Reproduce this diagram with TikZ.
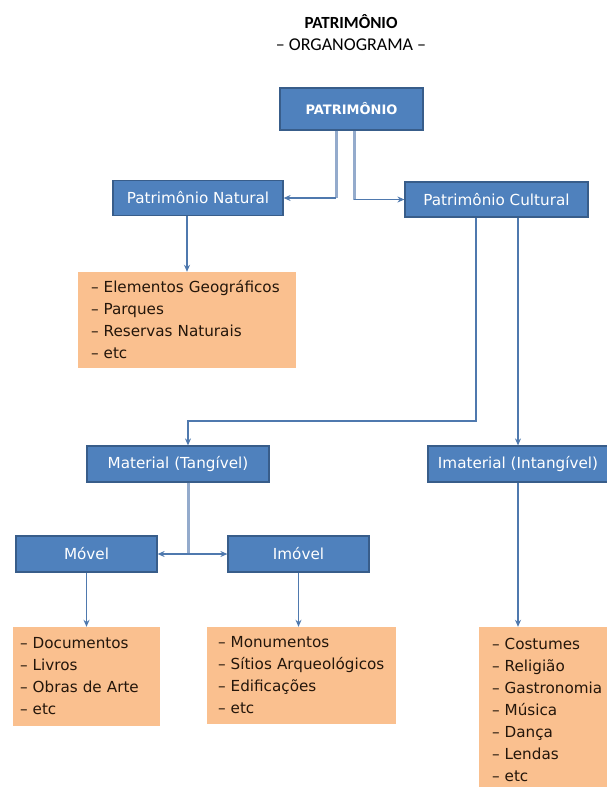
\documentclass[tikz,border=0pt]{standalone}
\usepackage{fontspec}
\setmainfont{DejaVu Sans}
\newfontfamily\titlefont{Carlito}
\usetikzlibrary{arrows.meta}
\definecolor{boxblue}{HTML}{4F81BD}
\definecolor{boxline}{HTML}{385D8A}
\definecolor{listfill}{HTML}{FAC08F}
\definecolor{listtext}{HTML}{24160B}
\definecolor{linkblue}{HTML}{4F79AE}
\definecolor{trunkblue}{HTML}{94ABCC}
\begin{document}
\begin{tikzpicture}[x=1pt,y=-1pt,
		catbox/.style={draw=boxline,fill=boxblue,text=white,line width=1.2pt,inner sep=0pt,font=\fontsize{15.2}{17}\selectfont},
		listbox/.style={fill=listfill,text=listtext,align=left,inner ysep=0pt,font=\fontsize{15.2}{22}\selectfont},
		link/.style={draw=linkblue,line width=1.1pt,-{Stealth[length=7pt,width=6pt]}},
		trunk/.style={draw=trunkblue,line width=3pt}]
			\useasboundingbox (0,0) rectangle (606,787);
			\draw
			(351,22) node(title){\titlefont\bfseries\fontsize{17}{19}\selectfont PATRIMÔNIO}
			(351,45) node(subtitle){\titlefont\fontsize{18}{20}\selectfont – ORGANOGRAMA –};
			\draw
			(351.5,109) node[catbox,minimum width=143pt,minimum height=42pt](top){\bfseries\fontsize{13}{15}\selectfont PATRIMÔNIO}
			(198,198) node[catbox,minimum width=170pt,minimum height=35pt](natural){Patrimônio Natural}
			(496.5,199.5) node[catbox,minimum width=183pt,minimum height=35pt](cultural){Patrimônio Cultural}
			(178,464) node[catbox,minimum width=182pt,minimum height=36pt](material){Material (Tangível)}
			(518,464) node[catbox,minimum width=180pt,minimum height=36pt](imaterial){Imaterial (Intangível)}
			(86.5,554) node[catbox,minimum width=141pt,minimum height=36pt](movel){Móvel}
			(298.5,554) node[catbox,minimum width=141pt,minimum height=36pt](imovel){Imóvel};
			\draw
			(187,320) node[listbox,inner xsep=13pt,text width=192pt,minimum height=96pt](natlist){– Elementos Geográficos\\– Parques\\– Reservas Naturais\\– etc}
			(86.5,676.5) node[listbox,inner xsep=7pt,text width=133pt,minimum height=99pt](movlist){– Documentos\\– Livros\\– Obras de Arte\\– etc}
			(301.5,675.5) node[listbox,inner xsep=11pt,text width=167pt,minimum height=97pt](imovlist){– Monumentos\\– Sítios Arqueológicos\\– Edificações\\– etc}
			(552,709.5) node[listbox,inner xsep=13pt,text width=120pt,minimum height=165pt](imatlist){– Costumes\\– Religião\\– Gastronomia\\– Música\\– Dança\\– Lendas\\– etc};
			% bends of the connectors
			\coordinate (natjoin) at (336,198);
			\coordinate (culjoin) at (354,199.5);
			\coordinate (culbend) at (476,421);
			\coordinate (matbend) at (188,421);
			\coordinate (matsplit) at (188,554);
			\draw[trunk] (top.south -| natjoin) -- (natjoin);
			\draw[trunk] (top.south -| culjoin) -- (culjoin);
			\draw[link] (natjoin) -- (natural.east);
			\draw[link] (culjoin) -- (cultural.west);
			\draw[link] (natural.south -| natlist.north) -- (natlist.north);
			\draw[link] (cultural.south -| culbend) -- (culbend) -- (matbend) -- (material.north -| matbend);
			\draw[link] (cultural.south -| imaterial.north) -- (imaterial.north);
			\draw[trunk] (material.south -| matsplit) -- (matsplit);
			\draw[link] (matsplit) -- (movel.east);
			\draw[link] (matsplit) -- (imovel.west);
			\draw[link] (movel.south) -- (movel.south |- movlist.north);
			\draw[link] (imovel.south) -- (imovel.south |- imovlist.north);
			\draw[link] (imaterial.south) -- (imaterial.south |- imatlist.north);
		\end{tikzpicture}
\end{document}
